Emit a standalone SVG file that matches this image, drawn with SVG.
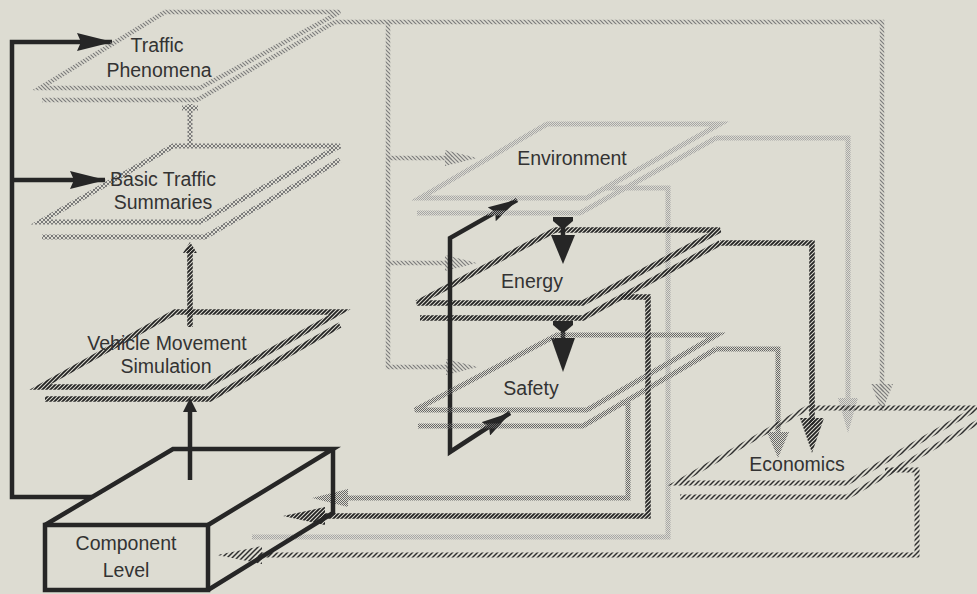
<svg xmlns="http://www.w3.org/2000/svg" width="977" height="594" viewBox="0 0 977 594">
  <defs>
    <!-- light "\\" hatch -->
    <pattern id="hatch-lt" width="4" height="4" patternUnits="userSpaceOnUse">
      <path d="M-1,-1 L5,5 M-1,3 L1,5 M3,-1 L5,1" stroke="#7c7c7c" stroke-width="1.2"/>
    </pattern>
    <!-- dark "//" rope hatch -->
    <pattern id="hatch-dk" width="4" height="4" patternUnits="userSpaceOnUse">
      <path d="M-1,5 L5,-1 M-1,1 L1,-1 M3,5 L5,3" stroke="#232323" stroke-width="1.8"/>
    </pattern>
    <!-- sparse "//" hatch -->
    <pattern id="hatch-eco" width="5" height="5" patternUnits="userSpaceOnUse">
      <path d="M-1,6 L6,-1 M-1,1 L1,-1 M4,6 L6,4" stroke="#2e2e2e" stroke-width="1.5"/>
    </pattern>
    <!-- chain cross hatch -->
    <pattern id="chain" width="4" height="4" patternUnits="userSpaceOnUse">
      <path d="M0,0 L4,4 M4,0 L0,4" stroke="#7a7a7a" stroke-width="1"/>
    </pattern>
    <!-- stipples -->
    <pattern id="stip-lt" width="2" height="2" patternUnits="userSpaceOnUse">
      <rect width="1" height="1" fill="#a5a5a5"/>
      <rect x="1" y="1" width="1" height="1" fill="#a5a5a5"/>
    </pattern>
    <pattern id="stip-md" width="2" height="2" patternUnits="userSpaceOnUse">
      <rect width="1" height="1" fill="#666666"/>
      <rect x="1" y="1" width="1" height="1" fill="#666666"/>
    </pattern>
    <marker id="arrow-black" viewBox="0 0 36 18" refX="35" refY="9" markerWidth="36" markerHeight="18" markerUnits="userSpaceOnUse" orient="auto-start-reverse">
      <path d="M0,0 L36,9 L0,18 L4,9 Z" fill="#262626"/>
    </marker>
    <marker id="arrow-black-sm" viewBox="0 0 30 16" refX="29" refY="8" markerWidth="30" markerHeight="16" markerUnits="userSpaceOnUse" orient="auto-start-reverse">
      <path d="M0,0 L30,8 L0,16 L4,8 Z" fill="#262626"/>
    </marker>
    <style>
      .ln { fill: none; stroke-linejoin: miter; }
      .tp { stroke: url(#hatch-lt); stroke-width: 4.5; }
      .bts { stroke: url(#chain); stroke-width: 5; }
      .dk { stroke: url(#hatch-dk); stroke-width: 5.5; }
      .eco { stroke: url(#hatch-eco); stroke-width: 5; }
      .env { stroke: url(#stip-lt); stroke-width: 5; }
      .saf { stroke: url(#stip-md); stroke-width: 5; }
      .blk { stroke: #262626; stroke-width: 4.5; }
      .lbl { font-family: "Liberation Sans", Arial, Helvetica, sans-serif; font-size: 19.5px; fill: #333333; text-anchor: middle; }
    </style>
  </defs>

  <rect width="977" height="594" fill="#dddcd2"/>

  <!-- connectors -->
  <g id="connectors">
    <!-- Traffic Phenomena outputs loop -->
    <path class="ln tp" d="M335,22 L882,22 L882,392"/>
    <path class="ln tp" d="M388,22 L388,367 L452,367"/>
    <path class="ln tp" d="M388,158 L452,158"/>
    <path class="ln tp" d="M388,263 L452,263"/>
    <polygon points="445,150 477,158 445,166" fill="url(#hatch-lt)"/>
    <polygon points="445,255 477,263 445,271" fill="url(#hatch-lt)"/>
    <polygon points="446,359 478,367 446,375" fill="url(#hatch-lt)"/>
    <polygon points="871,384 893,384 882,412" fill="url(#hatch-lt)"/>

    <!-- Traffic Phenomena to Basic Traffic Summaries -->
    <path class="ln bts" d="M190,104 L190,148"/>
    <path class="ln bts" d="M182,108 L198,108"/>

    <!-- Vehicle Movement Simulation to Basic Traffic Summaries -->
    <path class="ln dk" d="M190,248 L190,327"/>
    <polygon points="183,253 197,253 190,242" fill="url(#hatch-dk)"/>

    <!-- Component Level to Vehicle Movement Simulation -->
    <path class="ln blk" d="M190,480 L190,408"/>
    <polygon points="183,412 197,412 190,398" fill="#262626"/>

    <!-- Component Level feedback to upper levels -->
    <path class="ln blk" d="M92,497 L12,497 L12,42 L112,42" marker-end="url(#arrow-black)"/>
    <path class="ln blk" d="M12,180 L105,180" marker-end="url(#arrow-black)"/>

    <!-- Safety / Environment bracket -->
    <path class="ln blk" d="M517,200 L450,238 L450,452 L510,413" marker-start="url(#arrow-black-sm)" marker-end="url(#arrow-black-sm)"/>

    <!-- Environment <-> Energy <-> Safety -->
    <polygon points="553,217 573,217 573,221 566,227 560,227 553,221" fill="#262626"/>
    <path class="ln blk" d="M563,224 L563,240"/>
    <polygon points="551,235 575,235 563,264" fill="#262626"/>
    <polygon points="553,321 573,321 573,325 566,331 560,331 553,325" fill="#262626"/>
    <path class="ln blk" d="M563,328 L563,342"/>
    <polygon points="551,338 575,338 563,372" fill="#262626"/>

    <!-- Environment outputs -->
    <path class="ln env" d="M716,138 L848,138 L848,405"/>
    <polygon points="838,398 858,398 848,433" fill="url(#stip-lt)"/>
    <path class="ln env" d="M605,188 L668,188 L668,537 L252,537"/>

    <!-- Energy outputs -->
    <path class="ln dk" d="M720,243 L812,243 L812,425"/>
    <polygon points="800,418 824,418 812,453" fill="url(#hatch-dk)"/>
    <path class="ln dk" d="M621,297 L648,297 L648,516 L320,516"/>
    <polygon points="325,507 283,516 325,525" fill="url(#hatch-dk)"/>

    <!-- Safety outputs -->
    <path class="ln saf" d="M716,349 L778,349 L778,437"/>
    <polygon points="767,432 789,432 778,458" fill="url(#stip-md)"/>
    <path class="ln saf" d="M620,403 L628,403 L628,498 L342,498"/>
    <polygon points="348,489 312,498 348,507" fill="url(#stip-md)"/>

    <!-- Economics output -->
    <path class="ln eco" d="M885,470 L917,470 L917,555 L258,555"/>
    <polygon points="262,546 217,555 262,564" fill="url(#hatch-eco)"/>
  </g>

  <!-- levels -->
  <g id="traffic-phenomena">
    <path class="ln tp" d="M165,12 L340,12 L200,88 L40,88 Z"/>
    <path class="ln tp" d="M42,100 L197,100 L335,22"/>
    <text class="lbl" x="157" y="52">Traffic</text>
    <text class="lbl" x="159" y="77">Phenomena</text>
  </g>

  <g id="basic-traffic-summaries">
    <path class="ln bts" d="M173,146 L340,146 L200,222 L40,222 Z"/>
    <path class="ln bts" d="M42,237 L205,237 L340,160"/>
    <text class="lbl" x="163" y="186">Basic Traffic</text>
    <text class="lbl" x="163" y="209">Summaries</text>
  </g>

  <g id="vehicle-movement-simulation">
    <path class="ln dk" d="M175,312 L340,312 L205,387 L40,387 Z"/>
    <path class="ln dk" d="M45,399 L210,399 L340,325"/>
    <text class="lbl" x="167" y="350">Vehicle Movement</text>
    <text class="lbl" x="166" y="373">Simulation</text>
  </g>

  <g id="component-level">
    <path class="ln blk" d="M45,525 L173,449 L333,449 L208,525"/>
    <path class="ln blk" d="M333,449 L333,513 L208,590"/>
    <rect x="45" y="525" width="163" height="65" fill="none" stroke="#262626" stroke-width="4.5"/>
    <text class="lbl" x="126" y="550">Component</text>
    <text class="lbl" x="126" y="577">Level</text>
  </g>

  <g id="environment">
    <path class="ln env" d="M547,124 L720,124 L587,198 L420,198 Z"/>
    <path class="ln env" d="M417,213 L580,213 L716,138"/>
    <text class="lbl" x="572" y="165">Environment</text>
  </g>

  <g id="energy">
    <path class="ln dk" d="M555,230 L720,230 L583,303 L417,303 Z"/>
    <path class="ln dk" d="M420,318 L583,318 L720,243"/>
    <text class="lbl" x="532" y="288">Energy</text>
  </g>

  <g id="safety">
    <path class="ln saf" d="M557,335 L717,335 L587,410 L415,410 Z"/>
    <path class="ln saf" d="M418,426 L583,426 L716,349"/>
    <text class="lbl" x="531" y="395">Safety</text>
  </g>

  <g id="economics">
    <path class="ln eco" d="M807,408 L977,408 L847,483 L677,483 Z"/>
    <path class="ln eco" d="M680,497 L847,497 L980,421"/>
    <text class="lbl" x="797" y="471">Economics</text>
  </g>
</svg>
